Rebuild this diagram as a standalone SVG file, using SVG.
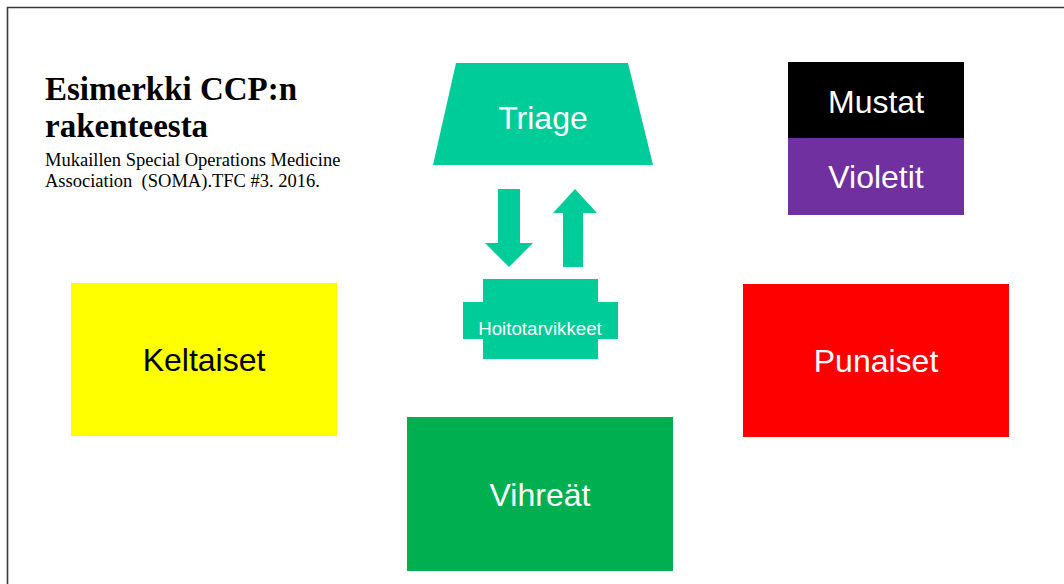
<svg xmlns="http://www.w3.org/2000/svg" width="1064" height="584" viewBox="0 0 1064 584">
  <style>
    .lbl { font-family: "Liberation Sans", Arial, sans-serif; font-size: 32px; text-anchor: middle; fill: #ffffff; }
    .teal { fill: #00cc99; }
    .title { font-family: "Liberation Serif", "Times New Roman", serif; font-size: 33px; font-weight: bold; fill: #000000; }
    .sub { font-family: "Liberation Serif", "Times New Roman", serif; font-size: 18.5px; fill: #000000; }
  </style>

  <!-- page background and frame -->
  <rect x="0" y="0" width="1064" height="584" fill="#ffffff"/>
  <path d="M7.5 584 V7.5 H1064" fill="none" stroke="#3a3a3a" stroke-width="1.6"/>

  <!-- heading -->
  <g id="heading">
    <text class="title" x="45" y="100">Esimerkki CCP:n</text>
    <text class="title" x="45" y="137">rakenteesta</text>
    <text class="sub" x="45" y="166" xml:space="preserve">Mukaillen Special Operations Medicine</text>
    <text class="sub" x="45" y="187" xml:space="preserve">Association  (SOMA).TFC #3. 2016.</text>
  </g>

  <!-- triage trapezoid -->
  <g id="triage">
    <polygon class="teal" points="456,63 628,63 653,165 433,165"/>
    <text class="lbl" x="543" y="129">Triage</text>
  </g>

  <!-- care supplies -->
  <g id="hoitotarvikkeet">
    <polygon class="teal" points="483,279 598,279 598,302 618,302 618,339 598,339 598,359 483,359 483,339 463,339 463,302 483,302"/>
    <text class="lbl" x="540" y="335" style="font-size:18.7px">Hoitotarvikkeet</text>
  </g>

  <!-- black / purple stack -->
  <g id="mustat">
    <rect x="788" y="62" width="176" height="76" fill="#000000"/>
    <text class="lbl" x="876" y="113">Mustat</text>
  </g>
  <g id="violetit">
    <rect x="788" y="138" width="176" height="77" fill="#7030a0"/>
    <text class="lbl" x="876" y="188">Violetit</text>
  </g>

  <!-- yellow -->
  <g id="keltaiset">
    <rect x="71" y="283" width="266" height="153" fill="#ffff00"/>
    <text class="lbl" x="204" y="371" style="fill:#000000">Keltaiset</text>
  </g>

  <!-- red -->
  <g id="punaiset">
    <rect x="743" y="284" width="266" height="153" fill="#ff0000"/>
    <text class="lbl" x="876" y="372">Punaiset</text>
  </g>

  <!-- green -->
  <g id="vihreat">
    <rect x="407" y="417" width="266" height="154" fill="#00b050"/>
    <text class="lbl" x="540" y="506">Vihreät</text>
  </g>

  <!-- block arrows between triage and supplies -->
  <g id="connectors">
    <polygon class="teal" points="498,189 520,189 520,243 533,243 509,267 485,243 498,243"/>
    <polygon class="teal" points="563,267 583,267 583,213 597,213 575,189 553,213 563,213"/>
  </g>
</svg>
